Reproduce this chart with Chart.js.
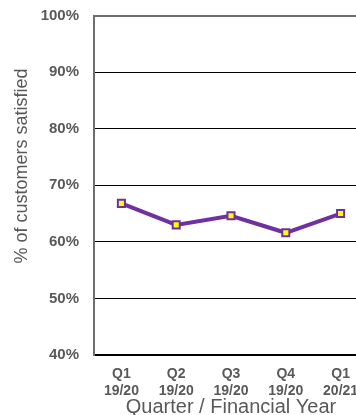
<!DOCTYPE html>
<html>
<head>
<meta charset="utf-8">
<script src="https://cdn.jsdelivr.net/npm/chart.js@4/dist/chart.umd.min.js"></script>
<style>
  html, body { margin: 0; padding: 0; background: #fff; overflow: hidden; }
  #wrap { position: relative; width: 375px; height: 415px; }
</style>
</head>
<body>
<div id="wrap"><canvas id="c"></canvas></div>
<script>
// Quarterly customer satisfaction
const quarters = [["Q1", "19/20"], ["Q2", "19/20"], ["Q3", "19/20"], ["Q4", "19/20"], ["Q1", "20/21"]];
const satisfied = [66.8, 63.0, 64.6, 61.6, 65.0];
const yTicks = [40, 50, 60, 70, 80, 90, 100];

const yAxisTitle = "% of customers satisfied";
const xAxisTitle = "Quarter / Financial Year";

const TEXT = "#595959";
const FONT = "'Liberation Sans', Arial, sans-serif";

// Scales keep the plot box fixed; no extra room around the tick labels
const zeroPad = s => { s.paddingLeft = 0; s.paddingRight = 0; s.paddingTop = 0; s.paddingBottom = 0; };

// Rotated y-axis title, set a little above the plot's middle
const yTitlePlugin = {
  id: "yTitle",
  afterDraw(chart) {
    const ctx = chart.ctx;
    ctx.save();
    ctx.translate(22, 166);
    ctx.rotate(-Math.PI / 2);
    ctx.font = "18px " + FONT;
    ctx.fillStyle = TEXT;
    ctx.textAlign = "center";
    ctx.textBaseline = "middle";
    ctx.fillText(yAxisTitle, 0, 0);
    ctx.restore();
  }
};

new Chart(document.getElementById("c"), {
  type: "line",
  data: {
    labels: quarters,
    datasets: [{
      data: satisfied,
      borderColor: "#7030A0",
      borderWidth: 4,
      pointStyle: "rect",
      pointRadius: 5,
      pointBackgroundColor: "#FFFF00",
      pointBorderColor: "#7030A0",
      pointBorderWidth: 2,
      tension: 0
    }]
  },
  options: {
    responsive: true,
    maintainAspectRatio: false,
    animation: false,
    layout: { padding: { top: 15.5, left: 0, right: 0, bottom: 0 } },
    plugins: { legend: { display: false }, tooltip: { enabled: false } },
    scales: {
      x: {
        offset: true,
        grid: { display: false, drawTicks: false },
        border: { display: true, color: "#000", width: 1.5 },
        ticks: {
          padding: 11,
          color: TEXT,
          font: { family: FONT, size: 14, weight: "bold", lineHeight: 1.2 },
          maxRotation: 0,
          autoSkip: false
        },
        title: {
          display: true,
          text: xAxisTitle,
          color: TEXT,
          font: { family: FONT, size: 20, lineHeight: 1 },
          padding: { top: 0, bottom: -2 }
        },
        afterFit(scale) { scale.height = 60; zeroPad(scale); }
      },
      y: {
        min: 40,
        max: 100,
        afterBuildTicks(scale) { scale.ticks = yTicks.map(v => ({ value: v })); },
        grid: {
          drawTicks: false,
          color: c => (c.tick && c.tick.value === 100 ? "#6e6e6e" : "#000"),
          lineWidth: c => (c.tick && c.tick.value === 100 ? 2 : 1)
        },
        border: { display: true, color: "#6e6e6e", width: 2 },
        ticks: {
          padding: 15,
          color: TEXT,
          font: { family: FONT, size: 15, weight: "bold" },
          callback: v => v + "%"
        },
        afterFit(scale) { scale.width = 94; zeroPad(scale); }
      }
    }
  },
  plugins: [yTitlePlugin]
});
</script>
</body>
</html>
